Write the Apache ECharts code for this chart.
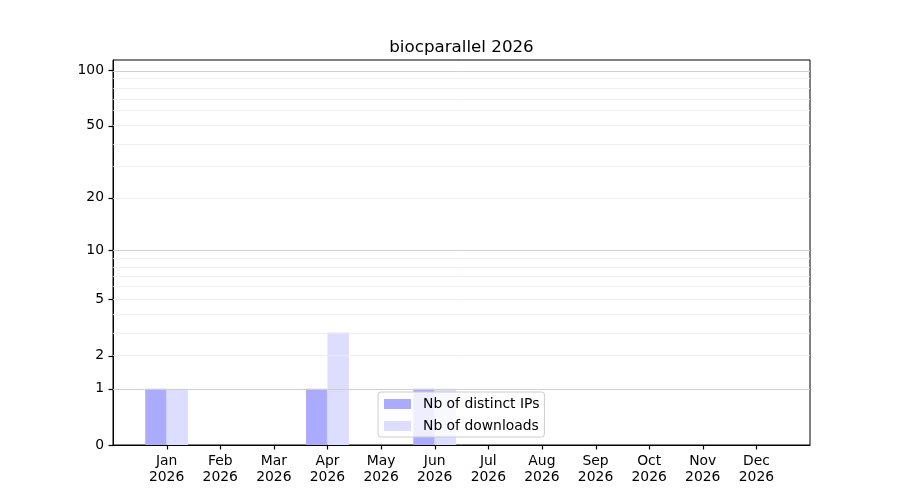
<!DOCTYPE html>
<html>
<head>
<meta charset="utf-8">
<script src="https://cdn.jsdelivr.net/npm/echarts@6/dist/echarts.min.js"></script>
<style>html,body{margin:0;padding:0;background:#fff}#c{width:900px;height:500px}</style>
</head>
<body>
<div id="c"></div>
<script>
const title = 'biocparallel 2026';
const year = '2026';
const months = ['Jan','Feb','Mar','Apr','May','Jun','Jul','Aug','Sep','Oct','Nov','Dec'];
const distinctIPs = [1,0,0,1,0,1,0,0,0,0,0,0];
const downloads   = [1,0,0,3,0,1,0,0,0,0,0,0];
const yTickLabels = [0,1,2,5,10,20,50,100];
const gridMajor = [1,10,100];
const gridMinor = [2,3,4,5,6,7,8,9,20,30,40,50,60,70,80,90];
const yTop = 113.5;

const tf = v => Math.log10(1 + v);
const font = 'DejaVu Sans';
const xMin = -1, xMax = 12;

const chart = echarts.init(document.getElementById('c'), null, {renderer:'canvas'});
const gridLines = [
  ...gridMinor.map(v => ({yAxis: tf(v), lineStyle:{color:'#ebebeb', width:0.8, type:'solid'}})),
  ...gridMajor.map(v => ({yAxis: tf(v), lineStyle:{color:'#cfcfcf', width:1, type:'solid'}}))
];
chart.setOption({
  animation:false,
  backgroundColor:'#fff',
  title:{text:title, left:461.5, top:39, textAlign:'center', padding:0,
    textStyle:{fontFamily:font, fontSize:16.7, fontWeight:'normal', color:'#000'}},
  grid:{left:113, right:90, top:60, bottom:55, show:true, borderColor:'#000', borderWidth:1, backgroundColor:'transparent'},
  legend:{orient:'vertical', left:378, top:392, itemWidth:27, itemHeight:10, itemGap:8,
    padding:[5,5,4,6], backgroundColor:'rgba(255,255,255,0.8)', borderColor:'#cccccc', borderWidth:1, borderRadius:3,
    icon:'rect', textStyle:{fontFamily:font, fontSize:13.9, color:'#000', lineHeight:14, padding:[0,0,0,7]},
    data:['Nb of distinct IPs','Nb of downloads']},
  xAxis:{type:'value', min:xMin, max:xMax, splitLine:{show:false},
    axisLine:{show:true, onZero:false, lineStyle:{color:'#000', width:1}},
    axisTick:{show:false},
    axisLabel:{customValues:months.map((m,i)=>i), fontFamily:font, fontSize:13.9, color:'#000', lineHeight:16, margin:8,
      formatter:v => months[Math.round(v)] + '\n' + year}},
  yAxis:{type:'value', min:0, max:tf(yTop), splitLine:{show:false},
    axisLine:{show:true, onZero:false, lineStyle:{color:'#000', width:1}},
    axisTick:{show:false},
    axisLabel:{customValues:yTickLabels.map(tf), fontFamily:font, fontSize:13.9, color:'#000', margin:9,
      formatter:v => String(Math.round(Math.pow(10, v) - 1))}},
  series:[
    {name:'Nb of distinct IPs', type:'bar', barWidth:21.4, barGap:'0%',
      itemStyle:{color:'#aaaaff'},
      data:distinctIPs.map((v,i)=>[i, tf(v)]),
      markLine:{silent:true, symbol:['none','none'], label:{show:false}, animation:false, data:gridLines}},
    {name:'Nb of downloads', type:'bar', barWidth:21.4, barGap:'0%',
      itemStyle:{color:'#ddddff'},
      data:downloads.map((v,i)=>[i, tf(v)])}
  ]
});

// tick marks, positioned through the chart's own scales
const ticks = [];
months.forEach((m, i) => {
  const p = chart.convertToPixel({gridIndex:0}, [i, 0]);
  const x = Math.round(p[0]) + 0.5, y = Math.round(p[1]);
  ticks.push({type:'rect', silent:true, z:100, shape:{x:x - 0.6, y:y, width:1.2, height:4.5}, style:{fill:'#000'}});
});
yTickLabels.forEach(v => {
  const p = chart.convertToPixel({gridIndex:0}, [xMin, tf(v)]);
  const x = Math.round(p[0]), y = Math.round(p[1]) + 0.5;
  ticks.push({type:'rect', silent:true, z:100, shape:{x:x - 4.5, y:y - 0.6, width:4.5, height:1.2}, style:{fill:'#000'}});
});
chart.setOption({graphic:{elements:ticks}});
</script>
</body>
</html>
